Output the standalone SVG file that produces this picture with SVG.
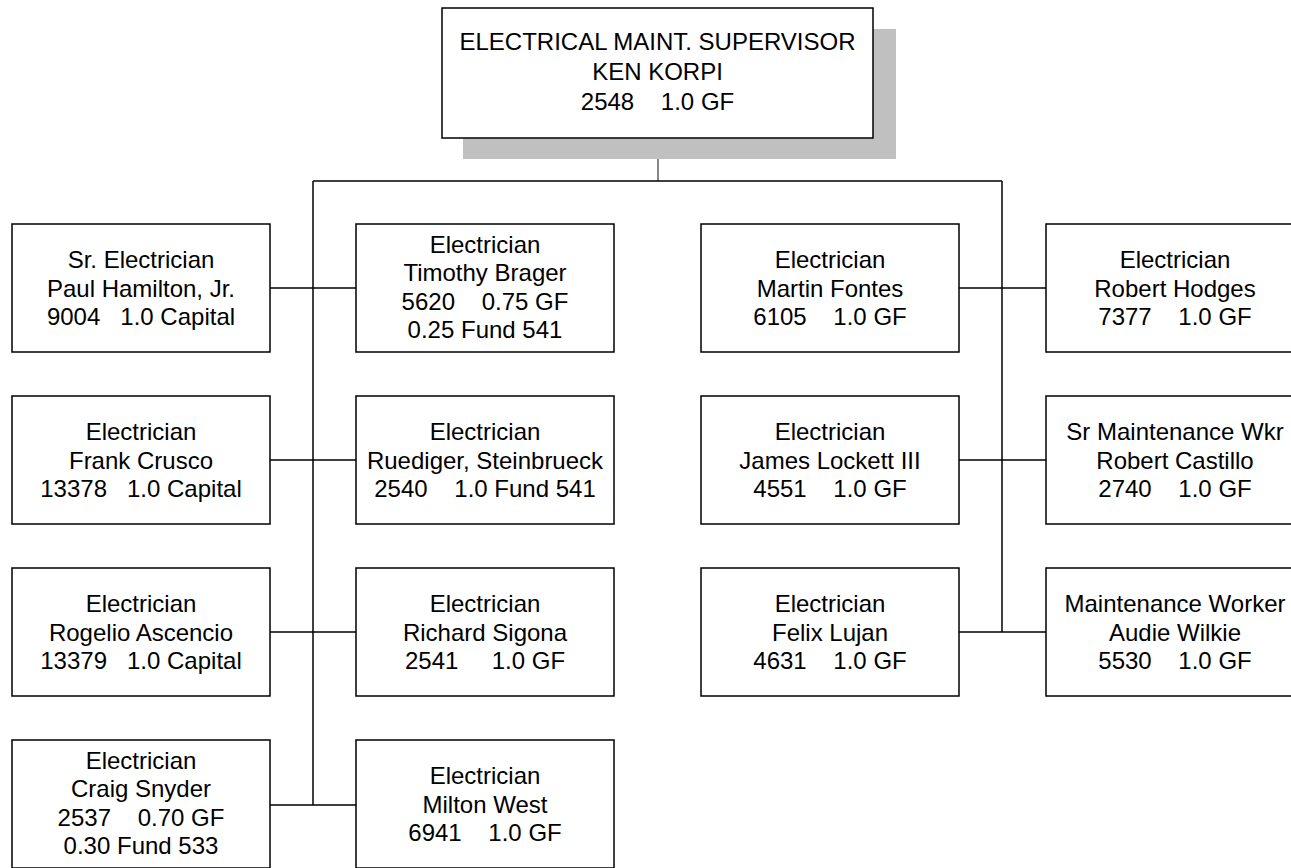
<svg xmlns="http://www.w3.org/2000/svg" width="1291" height="868" viewBox="0 0 1291 868">
<style>
.box{fill:#fff;stroke:#000;stroke-width:1.5}
.shadow{fill:#c0c0c0;stroke:none}
.ln{stroke:#000;stroke-width:1.5;fill:none}
.stem{stroke:#444;stroke-width:1.3;fill:none}
text{font-family:"Liberation Sans",Arial,sans-serif;font-size:24px;fill:#000;text-anchor:middle;white-space:pre}
</style>
<rect width="1291" height="868" fill="#fff"/>
<g id="connectors">
<line class="stem" x1="658" y1="138" x2="658" y2="181"/>
<line class="ln" x1="313" y1="181" x2="1002" y2="181"/>
<line class="ln" x1="313" y1="181" x2="313" y2="805"/>
<line class="ln" x1="1002" y1="181" x2="1002" y2="632"/>
<line class="ln" x1="270" y1="288" x2="356" y2="288"/>
<line class="ln" x1="270" y1="460" x2="356" y2="460"/>
<line class="ln" x1="270" y1="632" x2="356" y2="632"/>
<line class="ln" x1="270" y1="805" x2="356" y2="805"/>
<line class="ln" x1="959" y1="288" x2="1046" y2="288"/>
<line class="ln" x1="959" y1="460" x2="1046" y2="460"/>
<line class="ln" x1="959" y1="632" x2="1046" y2="632"/>
</g>
<g id="supervisor">
<rect class="shadow" x="463" y="29" width="433" height="130"/>
<rect class="box" x="442" y="8" width="431" height="130"/>
<text x="657.5" y="50">ELECTRICAL MAINT. SUPERVISOR</text>
<text x="657.5" y="80">KEN KORPI</text>
<text x="657.5" y="110">2548    1.0 GF</text>
</g>
<g id="hamilton">
<rect class="box" x="12" y="224" width="258" height="128"/>
<text x="141" y="268">Sr. Electrician</text>
<text x="141" y="296.5">Paul Hamilton, Jr.</text>
<text x="141" y="325">9004   1.0 Capital</text>
</g>
<g id="brager">
<rect class="box" x="356" y="224" width="258" height="128"/>
<text x="485" y="253">Electrician</text>
<text x="485" y="281">Timothy Brager</text>
<text x="485" y="309.5">5620    0.75 GF</text>
<text x="485" y="338">0.25 Fund 541</text>
</g>
<g id="crusco">
<rect class="box" x="12" y="396" width="258" height="128"/>
<text x="141" y="440">Electrician</text>
<text x="141" y="468.5">Frank Crusco</text>
<text x="141" y="497">13378   1.0 Capital</text>
</g>
<g id="steinbrueck">
<rect class="box" x="356" y="396" width="258" height="128"/>
<text x="485" y="440">Electrician</text>
<text x="485" y="468.5">Ruediger, Steinbrueck</text>
<text x="485" y="497">2540    1.0 Fund 541</text>
</g>
<g id="ascencio">
<rect class="box" x="12" y="568" width="258" height="128"/>
<text x="141" y="612">Electrician</text>
<text x="141" y="640.5">Rogelio Ascencio</text>
<text x="141" y="669">13379   1.0 Capital</text>
</g>
<g id="sigona">
<rect class="box" x="356" y="568" width="258" height="128"/>
<text x="485" y="612">Electrician</text>
<text x="485" y="640.5">Richard Sigona</text>
<text x="485" y="669">2541     1.0 GF</text>
</g>
<g id="snyder">
<rect class="box" x="12" y="740" width="258" height="128"/>
<text x="141" y="769">Electrician</text>
<text x="141" y="797">Craig Snyder</text>
<text x="141" y="825.5">2537    0.70 GF</text>
<text x="141" y="854">0.30 Fund 533</text>
</g>
<g id="west">
<rect class="box" x="356" y="740" width="258" height="128"/>
<text x="485" y="784">Electrician</text>
<text x="485" y="812.5">Milton West</text>
<text x="485" y="841">6941    1.0 GF</text>
</g>
<g id="fontes">
<rect class="box" x="701" y="224" width="258" height="128"/>
<text x="830" y="268">Electrician</text>
<text x="830" y="296.5">Martin Fontes</text>
<text x="830" y="325">6105    1.0 GF</text>
</g>
<g id="lockett">
<rect class="box" x="701" y="396" width="258" height="128"/>
<text x="830" y="440">Electrician</text>
<text x="830" y="468.5">James Lockett III</text>
<text x="830" y="497">4551    1.0 GF</text>
</g>
<g id="lujan">
<rect class="box" x="701" y="568" width="258" height="128"/>
<text x="830" y="612">Electrician</text>
<text x="830" y="640.5">Felix Lujan</text>
<text x="830" y="669">4631    1.0 GF</text>
</g>
<g id="hodges">
<rect class="box" x="1046" y="224" width="258" height="128"/>
<text x="1175" y="268">Electrician</text>
<text x="1175" y="296.5">Robert Hodges</text>
<text x="1175" y="325">7377    1.0 GF</text>
</g>
<g id="castillo">
<rect class="box" x="1046" y="396" width="258" height="128"/>
<text x="1175" y="440">Sr Maintenance Wkr</text>
<text x="1175" y="468.5">Robert Castillo</text>
<text x="1175" y="497">2740    1.0 GF</text>
</g>
<g id="wilkie">
<rect class="box" x="1046" y="568" width="258" height="128"/>
<text x="1175" y="612">Maintenance Worker</text>
<text x="1175" y="640.5">Audie Wilkie</text>
<text x="1175" y="669">5530    1.0 GF</text>
</g>
</svg>
